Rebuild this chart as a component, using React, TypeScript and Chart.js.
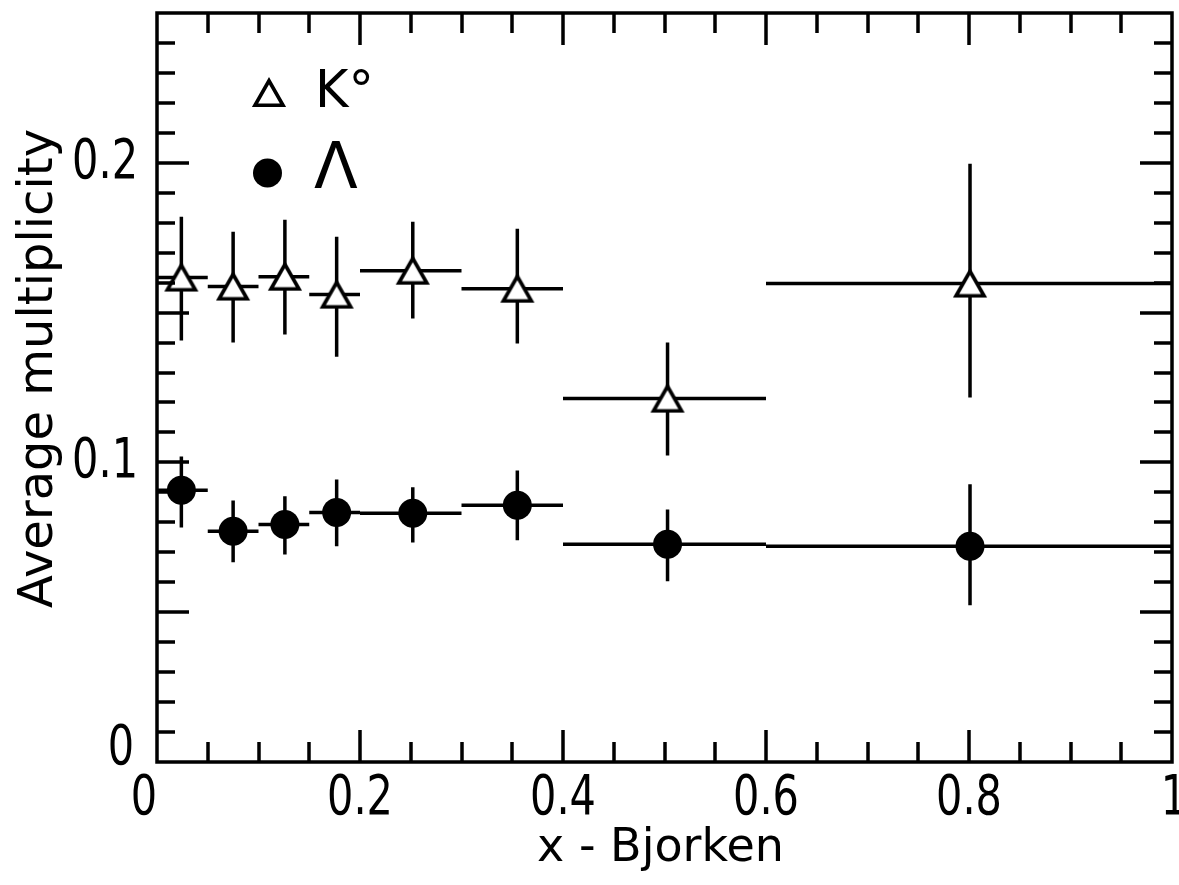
import { useEffect, useRef } from 'react';
import { Chart, registerables } from 'chart.js';

Chart.register(...registerables);

// ---- data ----
const xCenters = [0.024, 0.075, 0.126, 0.177, 0.252, 0.355, 0.503, 0.801];
const binLow = [0.0, 0.05, 0.1, 0.15, 0.2, 0.3, 0.4, 0.6];
const binHigh = [0.05, 0.1, 0.15, 0.2, 0.3, 0.4, 0.6, 1.0];

const k0Values = [0.1617, 0.1587, 0.162, 0.156, 0.164, 0.158, 0.1213, 0.1597];
const k0ErrHigh = [0.182, 0.177, 0.181, 0.1753, 0.1803, 0.178, 0.14, 0.1997];
const k0ErrLow = [0.1407, 0.14, 0.1427, 0.1353, 0.148, 0.1397, 0.1023, 0.1217];

const lambdaValues = [0.0907, 0.077, 0.0793, 0.0833, 0.083, 0.0857, 0.0727, 0.072];
const lambdaErrHigh = [0.102, 0.0873, 0.0887, 0.0943, 0.0917, 0.0973, 0.0843, 0.0927];
const lambdaErrLow = [0.0783, 0.0667, 0.0693, 0.072, 0.0733, 0.074, 0.0603, 0.0523];

const legendLabels = ['K°', 'Λ'];
const xTickValues = [0, 0.2, 0.4, 0.6, 0.8, 1];
const xTickLabels = ['0', '0.2', '0.4', '0.6', '0.8', '1'];
const yTickValues = [0, 0.1, 0.2];
const yTickLabels = ['0', '0.1', '0.2'];
const xTitle = 'x - Bjorken';
const yTitle = 'Average multiplicity';

const X_MIN = 0;
const X_MAX = 1;
const Y_MIN = 0;
const Y_MAX = 0.25;

const TICK_FONT = "56px 'DejaVu Sans', sans-serif";
const TICK_SQUEEZE = 0.74;
const TITLE_FONT_Y = "48px 'DejaVu Sans', sans-serif";
const TITLE_FONT_X = "46px 'DejaVu Sans', sans-serif";
const LINE_W = 3.5;

function makeTriangle(): HTMLCanvasElement {
  const c = document.createElement('canvas');
  c.width = 40;
  c.height = 36;
  const g = c.getContext('2d')!;
  const cx = 20;
  const cy = 18;
  const w = 28;
  const h = 24.5;
  g.lineWidth = 3.6;
  g.lineJoin = 'miter';
  g.beginPath();
  g.moveTo(cx, cy - h / 2);
  g.lineTo(cx + w / 2, cy + h / 2);
  g.lineTo(cx - w / 2, cy + h / 2);
  g.closePath();
  g.fillStyle = '#ffffff';
  g.fill();
  g.strokeStyle = '#000000';
  g.stroke();
  return c;
}

function squeezedText(ctx: CanvasRenderingContext2D, text: string, x: number, y: number, align: 'left' | 'right' | 'center') {
  ctx.save();
  ctx.translate(x, y);
  ctx.scale(TICK_SQUEEZE, 1);
  ctx.textAlign = align;
  ctx.fillText(text, 0, 0);
  ctx.restore();
}

const errorBarsPlugin = {
  id: 'errorBars',
  beforeDatasetsDraw(chart: any) {
    const { ctx, scales } = chart;
    const xs = scales.x;
    const ys = scales.y;
    ctx.save();
    ctx.strokeStyle = '#000';
    ctx.lineWidth = LINE_W;
    ctx.lineCap = 'butt';
    chart.data.datasets.forEach((ds: any) => {
      ds.data.forEach((p: any, j: number) => {
        const px = xs.getPixelForValue(p.x);
        const py = ys.getPixelForValue(p.y);
        ctx.beginPath();
        ctx.moveTo(xs.getPixelForValue(ds.binLow[j]), py);
        ctx.lineTo(xs.getPixelForValue(ds.binHigh[j]), py);
        ctx.moveTo(px, ys.getPixelForValue(ds.errHigh[j]));
        ctx.lineTo(px, ys.getPixelForValue(ds.errLow[j]));
        ctx.stroke();
      });
    });
    ctx.restore();
  },
};

const framePlugin = {
  id: 'frameAndText',
  afterDraw(chart: any) {
    const { ctx, chartArea, scales } = chart;
    const xs = scales.x;
    const ys = scales.y;
    const { left, right, top, bottom } = chartArea;
    ctx.save();
    ctx.strokeStyle = '#000';
    ctx.fillStyle = '#000';
    ctx.lineWidth = LINE_W;
    ctx.lineCap = 'square';
    ctx.strokeRect(left, top, right - left, bottom - top);
    ctx.lineCap = 'butt';
    ctx.beginPath();
    for (let i = 1; i < 20; i++) {
      const v = i * 0.05;
      const px = Math.round(xs.getPixelForValue(v));
      const len = i % 4 === 0 ? 32 : 20;
      ctx.moveTo(px, bottom);
      ctx.lineTo(px, bottom - len);
      ctx.moveTo(px, top);
      ctx.lineTo(px, top + len);
    }
    for (let i = 1; i < 25; i++) {
      const v = i * 0.01;
      const py = Math.round(ys.getPixelForValue(v));
      const len = i % 5 === 0 ? 32 : 18;
      ctx.moveTo(left, py);
      ctx.lineTo(left + len, py);
      ctx.moveTo(right, py);
      ctx.lineTo(right - len, py);
    }
    ctx.stroke();

    ctx.font = TICK_FONT;
    ctx.textBaseline = 'alphabetic';
    xTickValues.forEach((v, i) => {
      const px = xs.getPixelForValue(v);
      if (i === 0) {
        squeezedText(ctx, xTickLabels[i], px, bottom + 52, 'right');
      } else if (i === xTickValues.length - 1) {
        squeezedText(ctx, xTickLabels[i], px + 2, bottom + 52, 'center');
      } else {
        squeezedText(ctx, xTickLabels[i], px, bottom + 52, 'center');
      }
    });
    yTickValues.forEach((v, i) => {
      const py = ys.getPixelForValue(v);
      if (v === 0) {
        squeezedText(ctx, yTickLabels[i], left - 23, py + 2, 'right');
      } else {
        squeezedText(ctx, yTickLabels[i], left - 19, py + 15, 'right');
      }
    });

    ctx.font = TITLE_FONT_X;
    ctx.textAlign = 'center';
    ctx.fillText(xTitle, (left + right) / 2 - 4, bottom + 99);
    ctx.save();
    ctx.font = TITLE_FONT_Y;
    ctx.translate(52, (top + bottom) / 2 - 19);
    ctx.rotate(-Math.PI / 2);
    ctx.textAlign = 'center';
    ctx.fillText(yTitle, 0, 0);
    ctx.restore();

    const ds0 = chart.data.datasets[0];
    const ds1 = chart.data.datasets[1];
    const lx = left + 112;
    const tri = ds0.pointStyle as HTMLCanvasElement;
    ctx.drawImage(tri, lx - tri.width / 2, top + 80 - tri.height / 2);
    ctx.beginPath();
    ctx.arc(lx - 1.5, top + 160, ds1.pointRadius, 0, Math.PI * 2);
    ctx.fill();
    ctx.textAlign = 'left';
    ctx.font = "51px 'DejaVu Sans', sans-serif";
    ctx.fillText(ds0.label, lx + 46, top + 94);
    ctx.font = "64px 'DejaVu Sans', sans-serif";
    ctx.fillText(ds1.label, lx + 45, top + 175);
    ctx.restore();
  },
};

export default function App() {
  const ref = useRef<HTMLCanvasElement | null>(null);
  useEffect(() => {
    document.body.style.margin = '0';
    const canvas = ref.current!;
    const tri = makeTriangle();
    const chart = new Chart(canvas, {
      type: 'scatter',
      data: {
        datasets: [
          {
            label: legendLabels[0],
            data: xCenters.map((x, i) => ({ x, y: k0Values[i] })),
            pointStyle: tri,
            pointRadius: 17,
            showLine: false,
            binLow,
            binHigh,
            errLow: k0ErrLow,
            errHigh: k0ErrHigh,
          } as any,
          {
            label: legendLabels[1],
            data: xCenters.map((x, i) => ({ x, y: lambdaValues[i] })),
            pointStyle: 'circle',
            pointRadius: 14.5,
            pointBorderWidth: 0,
            backgroundColor: '#000',
            borderColor: '#000',
            showLine: false,
            binLow,
            binHigh,
            errLow: lambdaErrLow,
            errHigh: lambdaErrHigh,
          } as any,
        ],
      },
      options: {
        animation: false,
        responsive: false,
        devicePixelRatio: 1,
        events: [],
        layout: { autoPadding: false, padding: { left: 157, top: 13, right: 7, bottom: 123 } },
        scales: {
          x: { type: 'linear', min: X_MIN, max: X_MAX, display: false },
          y: { type: 'linear', min: Y_MIN, max: Y_MAX, display: false },
        },
        plugins: {
          legend: { display: false },
          tooltip: { enabled: false },
        },
      },
      plugins: [errorBarsPlugin, framePlugin],
    });
    return () => chart.destroy();
  }, []);
  return (
    <div style={{ position: 'fixed', left: 0, top: 0, width: 1179, height: 885, background: '#fff' }}>
      <canvas ref={ref} width={1179} height={885} style={{ display: 'block' }} />
    </div>
  );
}
